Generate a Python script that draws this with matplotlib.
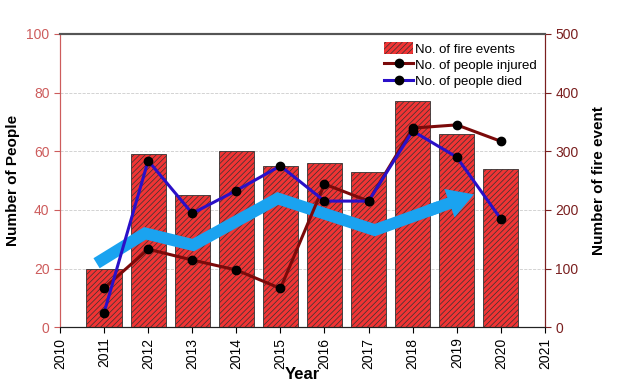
import matplotlib.pyplot as plt
from matplotlib.patches import FancyArrowPatch, Patch
from matplotlib.lines import Line2D

plt.rcParams['font.family'] = ['Liberation Sans', 'DejaVu Sans']
plt.rcParams['hatch.linewidth'] = 0.5

# values
years = [2011, 2012, 2013, 2014, 2015, 2016, 2017, 2018, 2019, 2020]
fire_events = [100, 295, 225, 300, 275, 280, 265, 385, 330, 270]
injured = [13.3, 26.6, 22.9, 19.5, 13.2, 48.8, 43, 67.9, 69, 63.4]
died = [4.9, 56.8, 38.8, 46.6, 55, 43, 43, 66.9, 58, 36.9]

# trend arrow vertices (left axis units)
trend_x = [2010.83, 2011.93, 2013.02, 2014.94, 2017.14, 2018.6]
trend_y = [21.8, 32, 28, 43.9, 33.1, 41.0]
trend_tip = (2019.45, 45.6)

left_col = '#cd5c5c'
right_col = '#7a1f1f'
trend_col = '#1aa3f0'
bar_col = '#f03434'

fig = plt.figure(figsize=(6.17, 3.89), dpi=100)
ax = fig.add_axes([0.0972, 0.159, 0.786, 0.7536])
ax2 = ax.twinx()
ax.set_zorder(ax2.get_zorder() + 1)
ax.patch.set_visible(False)

# bars on the right axis
ax2.bar(years, fire_events, width=0.8, color=bar_col, edgecolor='#333333',
        linewidth=0.6, hatch='//////', zorder=2)
ax2.set_ylim(0, 500)
ax2.set_yticks(range(0, 501, 100))
ax2.yaxis.grid(True, linestyle='--', color='#cccccc', linewidth=0.6, zorder=0)
ax2.set_axisbelow(True)
ax2.tick_params(axis='y', colors=right_col, labelsize=10, length=4, width=0.8)
ax2.set_ylabel('Number of fire event', fontsize=11, fontweight='bold')
ax2.yaxis.set_label_coords(1.097, 0.5)

# trend arrow
ax.plot(trend_x, trend_y, color=trend_col, lw=8.5, solid_joinstyle='miter',
        solid_capstyle='butt', zorder=2)
arrow = FancyArrowPatch((trend_x[-1] - 0.3, trend_y[-1] - 1.6), trend_tip,
                        arrowstyle='simple,tail_width=0.57,head_width=1.45,head_length=1.25',
                        mutation_scale=15, color=trend_col, lw=0, zorder=2)
ax.add_patch(arrow)

# lines on the left axis
ax.plot(years, injured, color='#7b0a0a', lw=2.2, marker='o', markersize=6,
        markerfacecolor='black', markeredgecolor='black', zorder=3)
ax.plot(years, died, color='#2a10c8', lw=2.2, marker='o', markersize=6,
        markerfacecolor='black', markeredgecolor='black', zorder=3)

ax.set_xlim(2010, 2021)
ax.set_ylim(0, 100)
ax.set_xticks(range(2010, 2022))
ax.set_xticklabels([str(y) for y in range(2010, 2022)], rotation=90, fontsize=10)
ax.set_yticks(range(0, 101, 20))
ax.tick_params(axis='y', colors=left_col, labelsize=10, length=4, width=0.8)
ax.tick_params(axis='x', length=4, width=0.8)
ax.set_xlabel('Year', fontsize=12, fontweight='bold')
ax.xaxis.set_label_coords(0.5, -0.135)
ax.set_ylabel('Number of People', fontsize=11, fontweight='bold')
ax.yaxis.set_label_coords(-0.082, 0.5)

for a in (ax, ax2):
    a.spines['left'].set_color(left_col)
    a.spines['right'].set_color(right_col)
    a.spines['top'].set_color('#555555')
    a.spines['top'].set_linewidth(1.5)
    a.spines['bottom'].set_color('#222222')

handles = [
    Patch(facecolor=bar_col, edgecolor='#333333', linewidth=0, hatch='//////'),
    Line2D([], [], color='#7b0a0a', lw=2.2, marker='o', markersize=6,
           markerfacecolor='black', markeredgecolor='black'),
    Line2D([], [], color='#2a10c8', lw=2.2, marker='o', markersize=6,
           markerfacecolor='black', markeredgecolor='black'),
]
labels = ['No. of fire events', 'No. of people injured', 'No. of people died']
ax.legend(handles, labels, loc='upper right', frameon=False, fontsize=9.5,
          handlelength=2.2, handleheight=1.05, handletextpad=0.15,
          labelspacing=0.2, borderaxespad=0.3, borderpad=0.3)

fig.savefig('out.png', dpi=100)
